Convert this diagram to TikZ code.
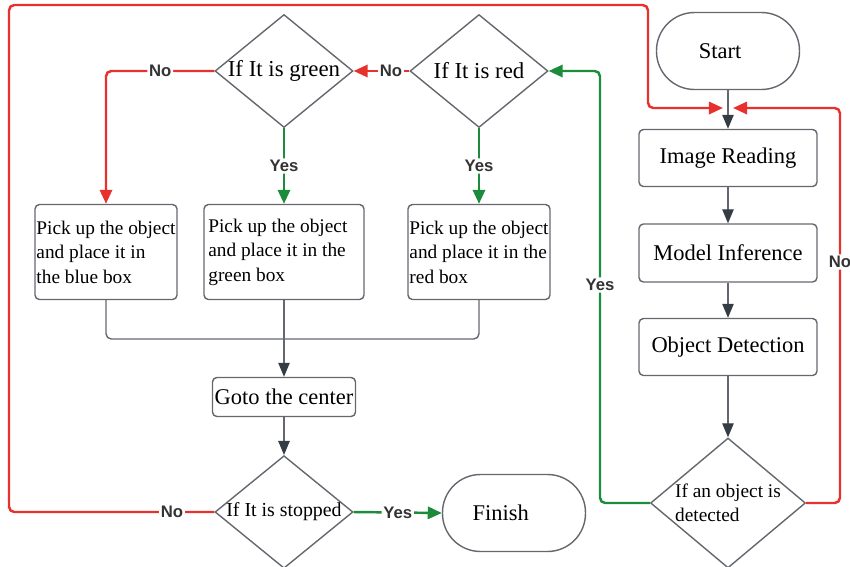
\documentclass[tikz,border=0pt]{standalone}
\usepackage{fontspec}
\setmainfont{Liberation Serif}
\newfontfamily\lblfont{Liberation Sans}
\usetikzlibrary{shapes.geometric,arrows.meta}

\definecolor{noRed}{RGB}{232,48,44}
\definecolor{yesGreen}{RGB}{28,140,60}
\definecolor{edgeGray}{RGB}{100,104,110}
\definecolor{arrowDark}{RGB}{52,60,68}

\begin{document}
\begin{tikzpicture}[x=0.02cm, y=-0.02cm,
  box/.style={draw=edgeGray, line width=0.8pt, rounded corners=2.5pt, inner sep=0pt, font=\fontsize{12.8}{15}\selectfont},
  pickbox/.style={box, minimum width=2.84cm, minimum height=1.9cm, align=left, font=\fontsize{11}{13.9}\selectfont},
  terminal/.style={draw=edgeGray, line width=0.8pt, rounded corners=0.76cm, minimum width=2.86cm, minimum height=1.54cm, font=\fontsize{12.8}{15}\selectfont},
  decision/.style={draw=edgeGray, line width=0.8pt, diamond, inner sep=0pt, aspect=1.22, minimum width=2.76cm, minimum height=2.26cm, font=\fontsize{13}{15}\selectfont},
  darr/.style={draw=edgeGray, line width=0.8pt, -{Triangle[length=8pt,width=6.5pt,color=arrowDark]}},
  conn/.style={draw=edgeGray, line width=0.8pt, rounded corners=3pt},
  noline/.style={draw=noRed, line width=1.4pt, rounded corners=3pt, -{Triangle[length=8pt,width=7pt]}},
  yesline/.style={draw=yesGreen, line width=1.4pt, rounded corners=3pt, -{Triangle[length=8pt,width=7pt]}},
  lbl/.style={fill=white, inner sep=1pt, text=black!80, font=\lblfont\bfseries\fontsize{9.5}{11}\selectfont}]
  \useasboundingbox (0,0) rectangle (850,566);

  % Main pipeline
  \node[terminal] (start) at (728,51) {Start\kern9pt};
  \node[box, minimum width=3.56cm, minimum height=1.14cm] (read) at (728,158) {Image Reading};
  \node[box, minimum width=3.56cm, minimum height=1.16cm] (infer) at (728,253) {Model Inference};
  \node[box, minimum width=3.56cm, minimum height=1.14cm] (objdet) at (728,347) {Object Detection};
  \node[decision, minimum width=3.1cm, minimum height=2.6cm, aspect=1.19, align=left,
        font=\fontsize{11}{13.6}\selectfont] (detect) at (728,503) {If an object is\\detected};
  \coordinate (joinL) at (723,108);
  \coordinate (joinR) at (733,108);

  % Colour checks
  \node[decision] (isred) at (479,71) {If It is red};
  \node[decision] (isgreen) at (284,71) {If It is green};

  % Pick and place
  \node[pickbox] (bluebox) at (106,252) {Pick up the object\\and place it in\\the blue box};
  \node[pickbox, minimum width=3.2cm] (greenbox) at (284,252) {Pick up the object\kern7pt\\and place it in the\\green box};
  \node[pickbox] (redbox) at (479,252) {Pick up the object\\and place it in the\\red box};
  \coordinate (merge) at (284,339);

  % Return and stop check
  \node[box, minimum width=2.86cm, minimum height=0.78cm] (gotoc) at (284,397) {Goto the center};
  \node[decision, minimum height=2.2cm, font=\fontsize{11.3}{13}\selectfont] (stop) at (284,512) {If It is stopped};
  \node[terminal] (finish) at (514,513) {Finish\kern15pt};

  % Straight arrows
  \foreach \a/\b in {start/read, read/infer, infer/objdet, objdet/detect, gotoc/stop}
    \draw[darr] (\a) -- (\b);

  % Detection branches
  \draw[yesline] (detect.west) -| (600,285) node[lbl]{Yes} |- (isred.east);
  \draw[noline] (detect.east) -| (840,262) node[lbl]{No} |- (joinR);

  % Colour branches
  \draw[noline] (isred.west) -- node[lbl, pos=0.33]{No} (isgreen.east);
  \draw[noline] (isgreen.west) -| node[lbl, pos=0.25]{No} (bluebox.north);
  \foreach \d/\b in {isgreen/greenbox, isred/redbox}
    \draw[yesline] (\d.south) -- node[lbl]{Yes} (\b.north);

  % Merge to the center
  \draw[conn] (bluebox.south) |- (merge);
  \draw[conn] (redbox.south) |- (merge);
  \draw[darr] (greenbox.south) -- (gotoc.north);

  % Stop check
  \draw[yesline] (stop.east) -- node[lbl]{Yes} (finish.west);
  \draw[noline] (stop.west) -- (172,512) node[lbl]{No} -- (9,512) |- (648,5) |- (joinL);
\end{tikzpicture}
\end{document}
